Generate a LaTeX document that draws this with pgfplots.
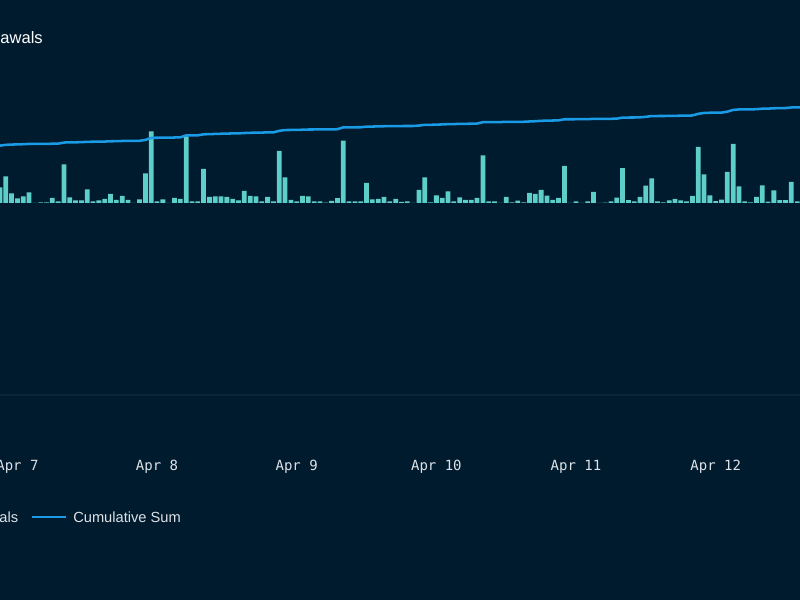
\documentclass[border=0pt]{standalone}
\usepackage{pgfplots}
\pgfplotsset{compat=1.18}
\usepackage{pgfplotstable}
\usepackage{fontspec}
\setmainfont{Liberation Sans}
\setmonofont{DejaVu Sans Mono}

\definecolor{bg}{HTML}{001A2E}
\definecolor{barc}{HTML}{5ECFC8}
\definecolor{linec}{HTML}{1A9BE6}
\definecolor{gridc}{HTML}{0D2538}
\definecolor{ticktext}{HTML}{DDE2E7}

% hourly withdrawals (hours from Apr 7 00:00)
\pgfplotstableread{
h v
-3 15.7
-2 26.7
-1 9.7
0 4.7
1 6.7
2 10.7
3 0
4 0.5
5 0.5
6 5
7 1.7
8 38.7
9 5.7
10 2.7
11 2.7
12 13.7
13 1.7
14 2.7
15 4
16 9
17 3
18 7
19 3
20 0
21 3.5
22 29.5
23 71.7
24 1.5
25 3.5
26 0
27 5
28 4
29 66.5
30 1.5
31 1.5
32 34
33 6.2
34 6.5
35 6.5
36 6
37 4
38 2.7
39 12
40 7
41 6.7
42 1.5
43 6
44 1.5
45 52
46 25.5
47 3
48 1.5
49 7
50 6.5
51 1.5
52 1.5
53 0.3
54 2.2
55 4.8
56 62.3
57 1.5
58 1.5
59 1.5
60 20
61 3.5
62 4.2
63 6.2
64 1.6
65 4.2
66 1
67 1.5
68 0
69 13
70 25.7
71 0.5
72 7.7
73 5
74 11.5
75 1.6
76 5.6
77 3
78 3
79 5.2
80 47.7
81 1.6
82 1.6
83 0
84 6
85 0.5
86 2.3
87 0.5
88 10.2
89 9
90 13.2
91 7.3
92 3.2
93 5
94 37
95 0
96 1.5
97 0
98 1.5
99 11.2
100 0
101 0.3
102 1.5
103 5.3
104 34.8
105 2.8
106 1.5
107 6
108 17.3
109 24.5
110 1.7
111 0.5
112 2.6
113 4.1
114 2.6
115 1.6
116 7.1
117 56.2
118 28.5
119 7.5
120 1.8
121 3.3
122 31
123 59.2
124 16.5
125 1.5
126 0.5
127 6
128 17.7
129 1.4
130 12.5
131 2.8
132 2.8
133 21.2
134 1.5
}\withdrawals

% cumulative sum (own scale)
\pgfplotstableread{
h c
-4 57.20
-3 57.37
-2 58.16
-1 58.44
0 58.58
1 58.78
2 59.10
3 59.10
4 59.11
5 59.13
6 59.27
7 59.32
8 60.47
9 60.64
10 60.72
11 60.80
12 61.20
13 61.25
14 61.33
15 61.45
16 61.72
17 61.81
18 62.01
19 62.10
20 62.10
21 62.21
22 63.08
23 65.20
24 65.25
25 65.35
26 65.35
27 65.50
28 65.62
29 67.59
30 67.63
31 67.67
32 68.68
33 68.86
34 69.06
35 69.25
36 69.43
37 69.55
38 69.63
39 69.98
40 70.19
41 70.39
42 70.43
43 70.61
44 70.65
45 72.19
46 72.95
47 73.03
48 73.08
49 73.29
50 73.48
51 73.52
52 73.57
53 73.58
54 73.64
55 73.78
56 75.63
57 75.67
58 75.72
59 75.76
60 76.35
61 76.46
62 76.58
63 76.76
64 76.81
65 76.94
66 76.97
67 77.01
68 77.01
69 77.40
70 78.16
71 78.17
72 78.40
73 78.55
74 78.89
75 78.93
76 79.10
77 79.19
78 79.28
79 79.43
80 80.84
81 80.89
82 80.94
83 80.94
84 81.12
85 81.13
86 81.20
87 81.21
88 81.52
89 81.78
90 82.17
91 82.39
92 82.48
93 82.63
94 83.73
95 83.73
96 83.77
97 83.77
98 83.82
99 84.15
100 84.15
101 84.16
102 84.20
103 84.36
104 85.39
105 85.47
106 85.51
107 85.69
108 86.20
109 86.93
110 86.98
111 86.99
112 87.07
113 87.19
114 87.27
115 87.32
116 87.53
117 89.19
118 90.03
119 90.26
120 90.31
121 90.41
122 91.32
123 93.08
124 93.57
125 93.61
126 93.62
127 93.80
128 94.33
129 94.37
130 94.74
131 94.82
132 94.90
133 95.53
134 95.57
135 95.62
}\cumsum

\begin{document}
\begin{tikzpicture}[x=0.75pt,y=0.75pt]
\useasboundingbox (0,0) rectangle (800,600);
\fill[bg] (0,0) rectangle (800,600);

\begin{axis}[
    at={(0,205)}, anchor=south west,
    scale only axis, width=600pt, height=251.25pt,
    xmin=-2.99, xmax=134.49, ymin=-192, ymax=143,
    axis x line=bottom, axis y line=none,
    axis line style={draw=gridc, line width=0.8pt, -},
    major tick length=0,
    xtick={0,24,48,72,96,120},
    xticklabels={Apr 7,Apr 8,Apr 9,Apr 10,Apr 11,Apr 12},
    xticklabel style={font=\ttfamily\fontsize{10.5}{12}\selectfont,
        text=ticktext, anchor=base, yshift=-56.6pt},
]
\addplot[ybar, bar width=0.82, fill=barc, draw=none] table[x=h, y=v] {\withdrawals};
\addplot[linec, line width=1.9pt, line join=round] table[x=h, y=c] {\cumsum};
\end{axis}

% title (cut by the left edge)
\node[anchor=base east, text=white, inner sep=0, font=\fontsize{12.4}{15}\selectfont] at (43,556) {Withdrawals};

% legend (cut by the left edge)
\fill[barc] (-60,77) rectangle (-46,91);
\node[anchor=base east, text=ticktext, inner sep=0, font=\fontsize{11}{13}\selectfont] at (18.5,77) {Withdrawals};
\draw[linec, line width=2.2pt] (31.6,83) -- (66.3,83);
\node[anchor=base west, text=ticktext, inner sep=0, font=\fontsize{11}{13}\selectfont] at (73,77) {Cumulative Sum};
\end{tikzpicture}
\end{document}
